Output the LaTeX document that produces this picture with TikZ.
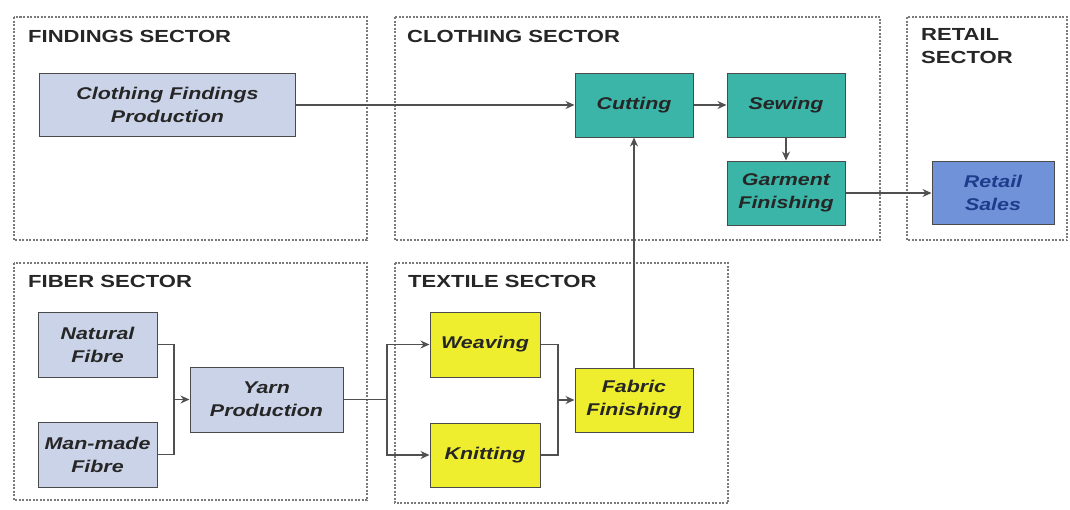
\documentclass[tikz,border=0pt]{standalone}
\usepackage{fontspec}
\setmainfont[FakeStretch=1.26]{Liberation Sans}
\usetikzlibrary{arrows.meta}
\definecolor{secline}{HTML}{7A7A7A}
\definecolor{boxline}{HTML}{4A4A4A}
\definecolor{lblue}{HTML}{CBD3E8}
\definecolor{teal}{HTML}{3AB5A8}
\definecolor{yel}{HTML}{EEEE2E}
\definecolor{rblue}{HTML}{7092D8}
\definecolor{rtext}{HTML}{1E3C8C}
\definecolor{conn}{HTML}{505050}
\tikzset{
  sector/.style={draw=secline, line width=1.1pt, dash pattern=on 2pt off 1.5pt},
  sectitle/.style={anchor=base west, inner sep=0pt, font=\fontsize{17.5}{23}\selectfont\bfseries, text=black!85, align=left},
  proc/.style={draw=boxline, line width=1pt, align=center, inner sep=0pt,
    font=\fontsize{17}{23}\selectfont\bfseries\itshape, text=black!85},
  bluebox/.style={proc, fill=lblue},
  tealbox/.style={proc, fill=teal},
  yelbox/.style={proc, fill=yel},
  retbox/.style={proc, fill=rblue, text=rtext},
  link/.style={draw=conn, line width=1.3pt},
  arr/.style={link, -{Stealth[length=9pt,width=8pt]}}
}
\begin{document}
\begin{tikzpicture}[x=1pt,y=-1pt]
\useasboundingbox (0,0) rectangle (1070,509);
% sectors
\draw[sector] (14,17) rectangle (367,240);
\draw[sector] (395,17) rectangle (880,240);
\draw[sector] (907,17) rectangle (1067,240);
\draw[sector] (14,263) rectangle (367,500);
\draw[sector] (395,263) rectangle (728,503);
\node[sectitle] (t1) at (28,42) {FINDINGS SECTOR};
\node[sectitle] (t2) at (407,42) {CLOTHING SECTOR};
\node[sectitle, anchor=north west] (t3) at (921,28.5) {RETAIL\\SECTOR};
\node[sectitle] (t4) at (28,287) {FIBER SECTOR};
\node[sectitle] (t5) at (408,287) {TEXTILE SECTOR};
% process boxes
\node[bluebox, minimum width=256pt, minimum height=63pt] (cfp) at (167.5,105) {Clothing Findings\\Production};
\node[tealbox, minimum width=118pt, minimum height=64pt] (cut) at (634,105) {Cutting};
\node[tealbox, minimum width=118pt, minimum height=64pt] (sew) at (786,105) {Sewing};
\node[tealbox, minimum width=118pt, minimum height=64pt] (gar) at (786,193) {Garment\\Finishing};
\node[retbox, minimum width=122pt, minimum height=63pt] (ret) at (993,193) {Retail\\Sales};
\node[bluebox, minimum width=119pt, minimum height=65pt] (nat) at (97.5,344.5) {Natural\\Fibre};
\node[bluebox, minimum width=119pt, minimum height=65pt] (man) at (97.5,454.5) {Man-made\\Fibre};
\node[bluebox, minimum width=153pt, minimum height=65pt] (yarn) at (266.5,399.5) {Yarn\\Production};
\node[yelbox, minimum width=110pt, minimum height=65pt] (wea) at (485,344.5) {Weaving};
\node[yelbox, minimum width=110pt, minimum height=64pt] (kni) at (485,455) {Knitting};
\node[yelbox, minimum width=118pt, minimum height=64pt] (fab) at (634,400) {Fabric\\Finishing};
% junctions
\coordinate (j1) at (174,399.5);
\coordinate (j2) at (387,399.5);
\coordinate (j3) at (558,400);
% connectors
\draw[arr] (cfp.east) -- (cut.west);
\draw[arr] (cut.east) -- (sew.west);
\draw[arr] (sew.south) -- (gar.north);
\draw[arr] (gar.east) -- (ret.west);
\draw[arr] (fab.north) -- (cut.south);
\draw[link] (nat.east) -| (j1);
\draw[link] (man.east) -| (j1);
\draw[arr] (j1) -- (yarn.west);
\draw[link] (yarn.east) -- (j2);
\draw[arr] (j2) |- (wea.west);
\draw[arr] (j2) |- (kni.west);
\draw[link] (wea.east) -| (j3);
\draw[link] (kni.east) -| (j3);
\draw[arr] (j3) -- (fab.west);
\end{tikzpicture}
\end{document}
